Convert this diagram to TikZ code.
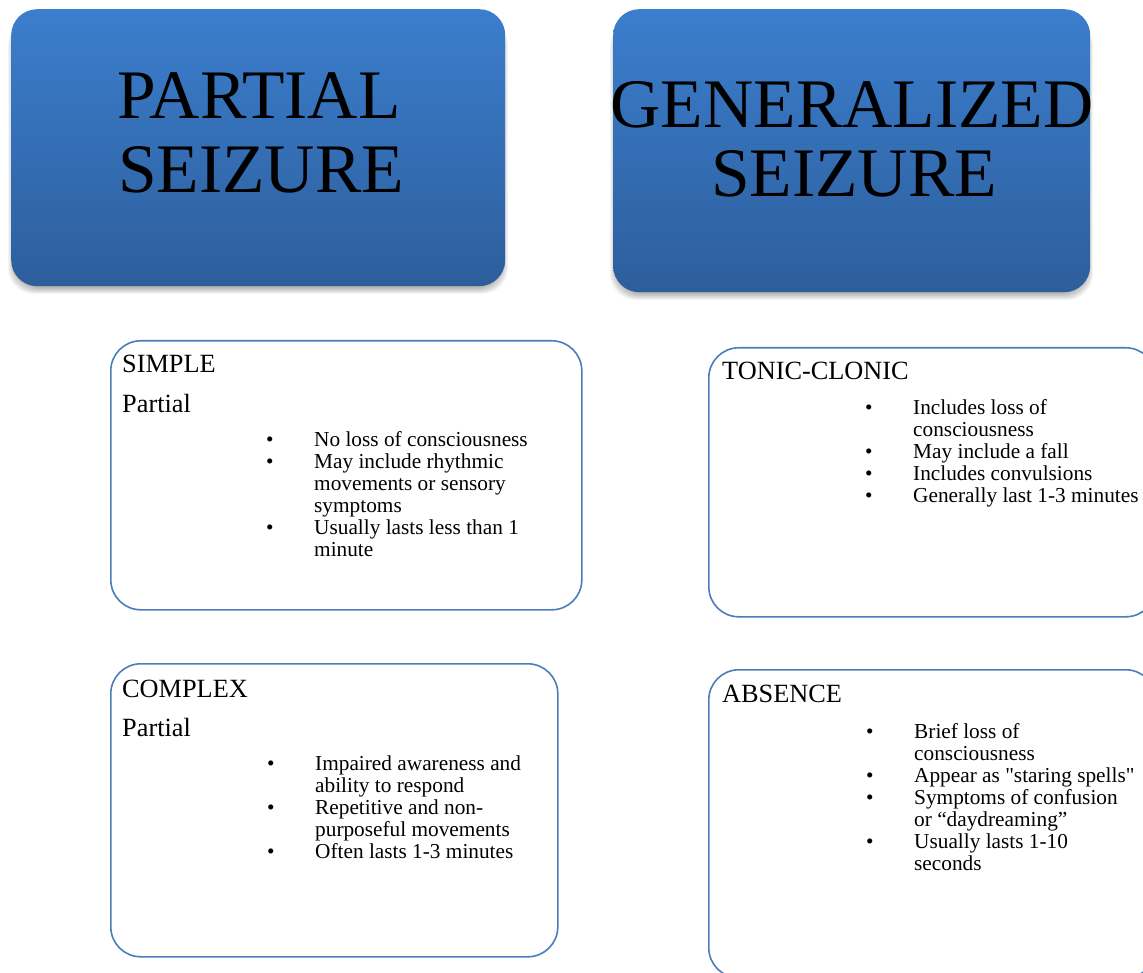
\documentclass[tikz,border=0pt]{standalone}
\usepackage{fontspec}
\setmainfont{Liberation Serif}
\newfontfamily\qfont{Liberation Serif}
\definecolor{gtop}{RGB}{59,126,205}
\definecolor{gbot}{RGB}{45,94,156}
\definecolor{edgeblue}{RGB}{74,126,187}
\begin{document}
\begin{tikzpicture}[x=1pt,y=-1pt,
  topbox/.style={rectangle, rounded corners=26pt, inner sep=0pt, anchor=north west,
    top color=gtop, bottom color=gbot, draw=none},
  shd/.style={fill=black, opacity=0.045},
  subbox/.style={rectangle, rounded corners=30pt, inner sep=0pt, anchor=north west,
    draw=edgeblue, line width=1.6pt, fill=white},
  ttl/.style={font=\fontsize{69.5}{74}\selectfont, anchor=base, inner sep=0pt, text=black},
  hd/.style={font=\fontsize{26.3}{30}\selectfont, anchor=base west, inner sep=0pt},
  li/.style={font=\fontsize{21.3}{22}\selectfont, anchor=base west, inner sep=0pt}]
\useasboundingbox (0,0) rectangle (1143,973);
\clip (0,0) rectangle (1143,973);
\fill[white] (0,0) rectangle (1143,973);

% soft shadows below the top boxes
\foreach \s in {0,1,...,7}{
  \fill[shd, rounded corners=26pt] (11-3+\s,20) rectangle (505+3-\s,286+8-\s);
  \fill[shd, rounded corners=26pt] (613-3+\s,20) rectangle (1090+3-\s,292+8-\s);
}

% top boxes
\node[topbox, minimum width=494pt, minimum height=277pt] (pbox) at (11,9) {};
\node[topbox, minimum width=477pt, minimum height=283pt] (gbox) at (613,9) {};
\node[ttl] (pt1) at (259,119) {PARTIAL};
\node[ttl] (pt2) at (261,193) {SEIZURE};
\node[ttl] (gt1) at (852,128) {GENERALIZED};
\node[ttl] (gt2) at (854,197) {SEIZURE};

% sub boxes
\node[subbox, minimum width=471pt, minimum height=269pt] (sbox) at (110,340) {};
\node[subbox, minimum width=447pt, minimum height=293pt] (cbox) at (110,663) {};
\node[subbox, minimum width=447pt, minimum height=269pt] (tbox) at (708,347) {};
\node[subbox, minimum width=447pt, minimum height=308pt] (abox) at (708,669) {};

% SIMPLE
\node[hd] (sh1) at (122,373) {SIMPLE};
\node[hd] (sh2) at (122,412) {Partial};
\node[li] (sb1) at (266,446) {•};
\node[li] (sb2) at (266,468) {•};
\node[li] (sb3) at (266,534) {•};
\node[li] (st1) at (314,446) {No loss of consciousness};
\node[li] (st2) at (314,468) {May include rhythmic};
\node[li] (st3) at (314,490) {movements or sensory};
\node[li] (st4) at (314,512) {symptoms};
\node[li] (st5) at (314,534) {Usually lasts less than 1};
\node[li] (st6) at (314,556) {minute};

% COMPLEX
\node[hd] (ch1) at (122,697) {COMPLEX};
\node[hd] (ch2) at (122,736) {Partial};
\node[li] (cb1) at (267,770) {•};
\node[li] (cb2) at (267,814) {•};
\node[li] (cb3) at (267,858) {•};
\node[li] (ct1) at (315,770) {Impaired awareness and};
\node[li] (ct2) at (315,792) {ability to respond};
\node[li] (ct3) at (315,814) {Repetitive and non-};
\node[li] (ct4) at (315,836) {purposeful movements};
\node[li] (ct5) at (315,858) {Often lasts 1-3 minutes};

% TONIC-CLONIC
\node[hd] (th1) at (722,380) {TONIC-CLONIC};
\node[li] (tb1) at (865,414) {•};
\node[li] (tb2) at (865,458) {•};
\node[li] (tb3) at (865,480) {•};
\node[li] (tb4) at (865,502) {•};
\node[li] (tt1) at (913,414) {Includes loss of};
\node[li] (tt2) at (913,436) {consciousness};
\node[li] (tt3) at (913,458) {May include a fall};
\node[li] (tt4) at (913,480) {Includes convulsions};
\node[li] (tt5) at (913,502) {Generally last 1-3 minutes};

% ABSENCE
\node[hd] (ah1) at (722,702) {ABSENCE};
\node[li] (ab1) at (866,738) {•};
\node[li] (ab2) at (866,782) {•};
\node[li] (ab3) at (866,804) {•};
\node[li] (ab4) at (866,848) {•};
\node[li] (at1) at (914,738) {Brief loss of};
\node[li] (at2) at (914,760) {consciousness};
\node[li] (at3) at (914,782) {\qfont Appear as "staring spells"};
\node[li] (at4) at (914,804) {Symptoms of confusion};
\node[li] (at5) at (914,826) {or “daydreaming”};
\node[li] (at6) at (914,848) {Usually lasts 1-10};
\node[li] (at7) at (914,870) {seconds};
\end{tikzpicture}
\end{document}
